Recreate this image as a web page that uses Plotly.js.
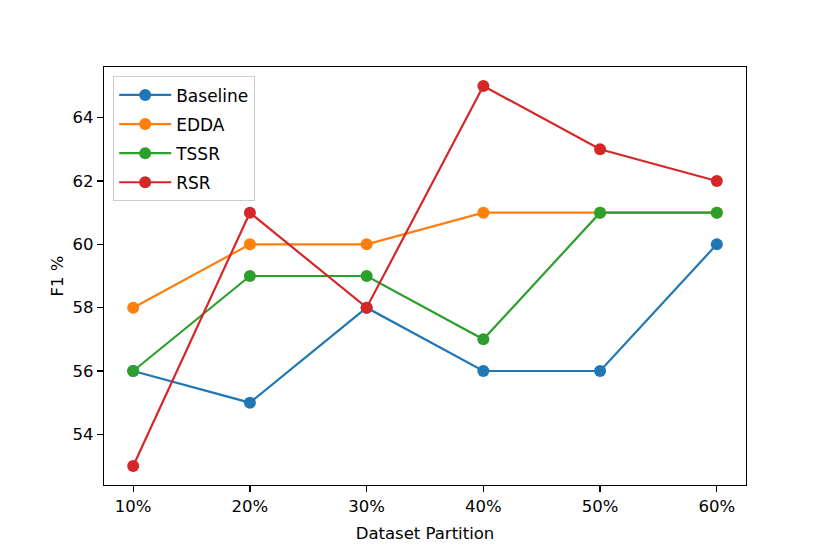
<!DOCTYPE html>
<html>
<head>
<meta charset="utf-8">
<script src="https://cdn.plot.ly/plotly-3.0.1.min.js"></script>
<style>
  html, body { margin: 0; padding: 0; background: #fff; }
  #chart { width: 830px; height: 554px; }
</style>
</head>
<body>
<div id="chart"></div>
<script>
const partitions = ["10%", "20%", "30%", "40%", "50%", "60%"];
const baseline = [56, 55, 58, 56, 56, 60];
const edda = [58, 60, 60, 61, 61, 61];
const tssr = [56, 59, 59, 57, 61, 61];
const rsr = [53, 61, 58, 65, 63, 62];
const yTicks = [54, 56, 58, 60, 62, 64];

const COLOURS = {
    blue: "#1f77b4",
    orange: "#ff7f0e",
    green: "#2ca02c",
    red: "#d62728"
};

function makeTrace(name, values, colour) {
    return {
        x: partitions,
        y: values,
        name: name,
        legendgroup: name,
        type: "scatter",
        mode: "lines+markers",
        line: { color: colour, width: 2.2 },
        marker: { color: colour, size: 12 }
    };
}

const data = [
    makeTrace("Baseline", baseline, COLOURS.blue),
    makeTrace("EDDA", edda, COLOURS.orange),
    makeTrace("TSSR", tssr, COLOURS.green),
    makeTrace("RSR", rsr, COLOURS.red)
];

const axisCommon = {
    showgrid: false,
    zeroline: false,
    showline: true,
    linecolor: "#000",
    linewidth: 1.2,
    mirror: true,
    ticks: "outside",
    ticklen: 6,
    tickwidth: 1.2,
    tickcolor: "#000",
    tickfont: { size: 16.5, color: "#000" }
};

const layout = {
    width: 830,
    height: 554,
    paper_bgcolor: "#fff",
    plot_bgcolor: "#fff",
    font: { family: "DejaVu Sans, sans-serif", color: "#000" },
    margin: { l: 104, r: 84, t: 67, b: 69 },
    showlegend: true,
    legend: {
        x: 0.014,
        y: 0.978,
        xanchor: "left",
        yanchor: "top",
        bgcolor: "rgba(255,255,255,0.8)",
        bordercolor: "#cccccc",
        borderwidth: 1.2,
        font: { size: 17, color: "#000" },
        tracegroupgap: 4,
        itemwidth: 52
    },
    xaxis: {
        ...axisCommon,
        type: "category",
        range: [-0.25, 5.25],
        title: { text: "Dataset Partition", font: { size: 16.5 }, standoff: 12 }
    },
    yaxis: {
        ...axisCommon,
        range: [52.4, 65.6],
        tickvals: yTicks,
        ticktext: yTicks.map(String),
        title: { text: "F1 %", font: { size: 16.5 }, standoff: 4 }
    }
};

Plotly.newPlot("chart", data, layout, { staticPlot: true, displayModeBar: false });
</script>
</body>
</html>
